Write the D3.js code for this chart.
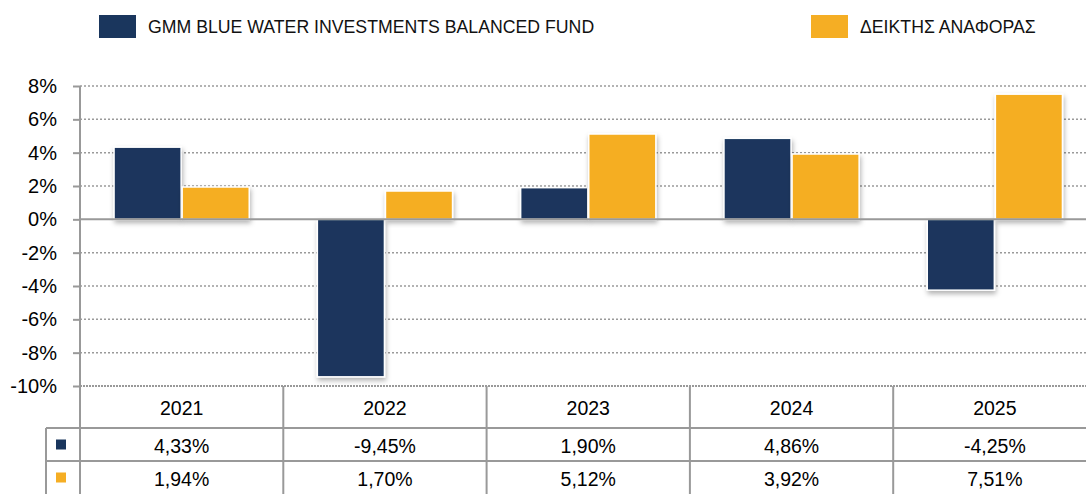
<!DOCTYPE html>
<html>
<head>
<meta charset="utf-8">
<script src="https://cdn.jsdelivr.net/npm/d3@7"></script>
<style>
  body { margin: 0; background: #fff; }
  svg { display: block; font-family: "Liberation Sans", Arial, sans-serif; }
</style>
</head>
<body>
<div id="chart"></div>
<script>
var years = ['2021', '2022', '2023', '2024', '2025'];
var seriesNames = ['GMM BLUE WATER INVESTMENTS BALANCED FUND', 'ΔΕΙΚΤΗΣ ΑΝΑΦΟΡΑΣ'];
var fundValues = [4.33, -9.45, 1.90, 4.86, -4.25];
var indexValues = [1.94, 1.70, 5.12, 3.92, 7.51];
var yTicks = [8, 6, 4, 2, 0, -2, -4, -6, -8, -10];

var colors = ['#1a365d', '#f5ae24'];
var width = 1086, height = 494;

var svg = d3.select('#chart').append('svg')
	.attr('width', width)
	.attr('height', height);

var defs = svg.append('defs');
var shadow = defs.append('filter')
	.attr('id', 'shadow')
	.attr('x', '-20%').attr('y', '-20%')
	.attr('width', '150%').attr('height', '150%');
shadow.append('feDropShadow')
	.attr('dx', 1).attr('dy', 3)
	.attr('stdDeviation', 2.5)
	.attr('flood-color', '#000')
	.attr('flood-opacity', 0.3);

var plotLeft = 80, plotRight = 1096.5, plotTop = 86, plotBottom = 386;

var x = d3.scaleBand()
	.domain(years)
	.range([plotLeft, plotRight])
	.padding(0);

var x1 = d3.scaleBand()
	.domain([0, 1])
	.range([0, x.bandwidth()])
	.paddingInner(0.015)
	.paddingOuter(0.5);

var y = d3.scaleLinear()
	.domain([-10, 8])
	.range([plotBottom, plotTop]);

// gridlines
svg.append('g')
	.selectAll('line')
	.data(yTicks.filter(function(d) { return d !== 0 && d !== -10; }))
	.enter()
	.append('line')
	.attr('x1', plotLeft)
	.attr('x2', width)
	.attr('y1', function(d) { return y(d); })
	.attr('y2', function(d) { return y(d); })
	.attr('stroke', '#9a9a9a')
	.attr('stroke-width', 1.5)
	.attr('stroke-dasharray', '2,2');

// y axis
var yAxis = d3.axisLeft(y)
	.tickValues(yTicks)
	.tickSize(7)
	.tickPadding(16)
	.tickFormat(function(d) { return d + '%'; });

var gy = svg.append('g')
	.attr('transform', 'translate(' + plotLeft + ',0)')
	.call(yAxis);
gy.select('.domain').remove();
gy.selectAll('.tick line').attr('stroke', '#999').attr('stroke-width', 2);
gy.selectAll('.tick text')
	.attr('fill', '#000')
	.style('font-size', '20px')
	.style('font-family', '"Liberation Sans", Arial, sans-serif');

// bars
var data = years.map(function(yr, i) {
	return { year: yr, values: [fundValues[i], indexValues[i]] };
});

var groups = svg.append('g')
	.selectAll('g')
	.data(data)
	.enter()
	.append('g')
	.attr('transform', function(d) { return 'translate(' + x(d.year) + ',0)'; });

groups.selectAll('rect')
	.data(function(d) { return d.values.map(function(v, j) { return { v: v, j: j }; }); })
	.enter()
	.append('rect')
	.attr('x', function(d) { return x1(d.j); })
	.attr('width', x1.bandwidth())
	.attr('y', function(d) { return y(Math.max(0, d.v)); })
	.attr('height', function(d) { return Math.abs(y(d.v) - y(0)); })
	.attr('fill', function(d) { return colors[d.j]; })
	.attr('stroke', '#fff')
	.attr('stroke-width', 1.5)
	.attr('filter', 'url(#shadow)');

// zero line
svg.append('line')
	.attr('x1', plotLeft).attr('x2', width)
	.attr('y1', y(0)).attr('y2', y(0))
	.attr('stroke', '#999')
	.attr('stroke-width', 2);

// y axis line
svg.append('line')
	.attr('x1', plotLeft).attr('x2', plotLeft)
	.attr('y1', plotTop).attr('y2', height)
	.attr('stroke', '#999')
	.attr('stroke-width', 2);

// data table
var rowTops = [plotBottom, 428, 461, height];
var table = svg.append('g');

table.append('line')
	.attr('x1', plotLeft).attr('x2', width)
	.attr('y1', plotBottom).attr('y2', plotBottom)
	.attr('stroke', '#999').attr('stroke-width', 2)
	.attr('stroke-dasharray', '2,1');

[rowTops[1], rowTops[2]].forEach(function(yy) {
	table.append('line')
		.attr('x1', 46).attr('x2', width)
		.attr('y1', yy).attr('y2', yy)
		.attr('stroke', '#999').attr('stroke-width', 2);
});

table.append('line')
	.attr('x1', 46).attr('x2', 46)
	.attr('y1', rowTops[1]).attr('y2', height)
	.attr('stroke', '#999').attr('stroke-width', 2);

table.selectAll('line.sep')
	.data(years.slice(1))
	.enter()
	.append('line')
	.attr('class', 'sep')
	.attr('x1', function(d) { return x(d); })
	.attr('x2', function(d) { return x(d); })
	.attr('y1', plotBottom).attr('y2', height)
	.attr('stroke', '#999').attr('stroke-width', 2);

function fmt(v) {
	return v.toFixed(2).replace('.', ',') + '%';
}

var rows = [years, fundValues.map(fmt), indexValues.map(fmt)];
rows.forEach(function(row, r) {
	var mid = (rowTops[r] + rowTops[r + 1]) / 2;
	table.selectAll('text.r' + r)
		.data(row)
		.enter()
		.append('text')
		.attr('class', 'r' + r)
		.attr('x', function(d, i) { return x(years[i]) + x.bandwidth() / 2; })
		.attr('y', mid + 1)
		.attr('text-anchor', 'middle')
		.attr('dominant-baseline', 'central')
		.style('font-size', '19.5px')
		.attr('fill', '#000')
		.text(function(d) { return d; });
	if (r > 0) {
		table.append('rect')
			.attr('x', 56).attr('y', mid - 5)
			.attr('width', 10).attr('height', 10)
			.attr('fill', colors[r - 1]);
	}
});

// legend
var legendX = [99, 811];
var legend = svg.append('g')
	.selectAll('g')
	.data(seriesNames)
	.enter()
	.append('g')
	.attr('transform', function(d, i) { return 'translate(' + legendX[i] + ',15)'; });

legend.append('rect')
	.attr('width', 37).attr('height', 23)
	.attr('fill', function(d, i) { return colors[i]; });

legend.append('text')
	.attr('x', 49).attr('y', 12)
	.attr('dominant-baseline', 'central')
	.style('font-size', '17.7px')
	.attr('fill', '#111')
	.text(function(d) { return d; });
</script>
</body>
</html>
